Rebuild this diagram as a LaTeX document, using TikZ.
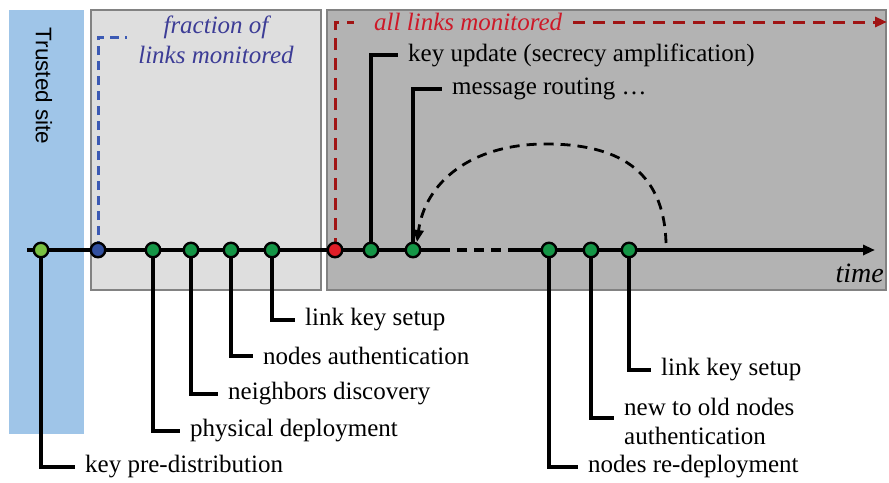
\documentclass[tikz,border=0pt]{standalone}
\usepackage{fontspec}
\setmainfont{Liberation Serif}
\newfontfamily\arialf{Liberation Sans}
\usetikzlibrary{arrows.meta}
\definecolor{trustblue}{RGB}{159,197,232}
\definecolor{ltgrey}{RGB}{222,222,222}
\definecolor{dkgrey}{RGB}{179,179,179}
\definecolor{edgegrey}{RGB}{130,130,130}
\definecolor{ltgreen}{RGB}{122,193,66}
\definecolor{dotgreen}{RGB}{20,150,70}
\definecolor{dotblue}{RGB}{50,80,160}
\definecolor{dotred}{RGB}{225,30,40}
\definecolor{dashblue}{RGB}{60,90,180}
\definecolor{textblue}{RGB}{60,60,150}
\definecolor{dashred}{RGB}{160,20,20}
\definecolor{textred}{RGB}{205,25,40}
\begin{document}
\begin{tikzpicture}[x=1pt,y=-1pt,
  dot/.style={circle, draw=black, line width=2.4pt, minimum size=14.5pt, inner sep=0pt},
  lbl/.style={anchor=west, inner sep=0pt, font=\fontsize{25}{29}\selectfont},
  leader/.style={line width=3.3pt},
  tl/.style={line width=3.1pt},
  tip/.style={-{Triangle[length=12pt,width=10pt]}}
]
\useasboundingbox (0,0) rectangle (889,482);
% regions
\fill[trustblue] (9,10) rectangle (84,434);
\draw[fill=ltgrey, draw=edgegrey, line width=1.4pt] (91,10) rectangle (321,290);
\draw[fill=dkgrey, draw=edgegrey, line width=1.4pt] (327,10) rectangle (886,290);
\node[rotate=-90, font=\arialf\fontsize{22.5}{26}\selectfont, inner sep=0pt] (trust) at (44,86) {Trusted site};

% positions on the time line
\coordinate (p1) at (41,250);
\coordinate (p2) at (98,250);
\coordinate (p3) at (153,250);
\coordinate (p4) at (191,250);
\coordinate (p5) at (231,250);
\coordinate (p6) at (272,250);
\coordinate (p7) at (335,250);
\coordinate (p8) at (371,250);
\coordinate (p9) at (413,250);
\coordinate (p10) at (549,250);
\coordinate (p11) at (591,250);
\coordinate (p12) at (629,250);
\coordinate (tstart) at (27,250);
\coordinate (tsolid) at (450,250);
\coordinate (tdash) at (510,250);
\coordinate (tend) at (875,250);

% monitoring markers
\coordinate (bcorner) at (98,37);
\coordinate (bend) at (127,37);
\draw[dashblue, line width=3pt, dash pattern=on 9pt off 6pt] (p2) -- (bcorner) -- (bend);
\node[font=\itshape\fontsize{25}{30}\selectfont, text=textblue, align=center, inner sep=0pt] (frac) at (216,40) {fraction of\\links monitored};

\coordinate (rcorner) at (335,22);
\coordinate (rend) at (354,22);
\coordinate (rstart2) at (573,22);
\coordinate (rarrow) at (887,22);
\draw[dashred, line width=3pt, dash pattern=on 12pt off 8pt] (p7) -- (rcorner) -- (rend);
\draw[dashred, line width=3pt, dash pattern=on 12pt off 8pt, tip] (rstart2) -- (rarrow);
\node[lbl, text=textred, font=\itshape\fontsize{25}{29}\selectfont] (all) at (374,22) {all links monitored};

% time line
\draw[tl] (tstart) -- (tsolid);
\draw[tl, dash pattern=on 10pt off 7pt, dash phase=10pt] (tsolid) -- (tdash);
\draw[tl, tip] (tdash) -- (tend);
\node[anchor=east, inner sep=0pt, font=\itshape\fontsize{28}{32}\selectfont] (time) at (884,273) {time};

% redeployment arc
\coordinate (arcs) at (666,243);
\coordinate (arce) at (417,242);
\draw[line width=2.8pt, dash pattern=on 10pt off 7pt, tip] (arcs) .. controls (664,168) and (615,144) .. (546,144) .. controls (470,144) and (425,183) .. (arce);

% labels
\node[lbl] (l1) at (85,467) {key pre-distribution};
\node[lbl] (l2) at (190,431) {physical deployment};
\node[lbl] (l3) at (228,394) {neighbors discovery};
\node[lbl] (l4) at (263,356) {nodes authentication};
\node[lbl] (l5) at (305,320) {link key setup};
\node[lbl] (l8) at (408,55) {key update (secrecy amplification)};
\node[lbl] (l9) at (452,89) {message routing \dots};
\node[lbl] (l10) at (588,467) {nodes re-deployment};
\node[lbl, align=left] (l11) at (624,421) {new to old nodes\\authentication};
\node[lbl] (l12) at (661,370) {link key setup};

\draw[leader] (p1) |- ([xshift=-10pt]l1.west);
\draw[leader] (p3) |- ([xshift=-10pt]l2.west);
\draw[leader] (p4) |- ([xshift=-10pt]l3.west);
\draw[leader] (p5) |- ([xshift=-10pt]l4.west);
\draw[leader] (p6) |- ([xshift=-10pt]l5.west);
\draw[leader] (p8) |- ([xshift=-10pt]l8.west);
\draw[leader] (p9) |- ([xshift=-10pt]l9.west);
\draw[leader] (p10) |- ([xshift=-10pt]l10.west);
\draw[leader] (p11) |- ([xshift=-10pt,yshift=3pt]l11.west);
\draw[leader] (p12) |- ([xshift=-10pt]l12.west);

% event dots
\node[dot, fill=ltgreen] (n1) at (p1) {};
\node[dot, fill=dotblue] (n2) at (p2) {};
\node[dot, fill=dotgreen] (n3) at (p3) {};
\node[dot, fill=dotgreen] (n4) at (p4) {};
\node[dot, fill=dotgreen] (n5) at (p5) {};
\node[dot, fill=dotgreen] (n6) at (p6) {};
\node[dot, fill=dotred] (n7) at (p7) {};
\node[dot, fill=dotgreen] (n8) at (p8) {};
\node[dot, fill=dotgreen] (n9) at (p9) {};
\node[dot, fill=dotgreen] (n10) at (p10) {};
\node[dot, fill=dotgreen] (n11) at (p11) {};
\node[dot, fill=dotgreen] (n12) at (p12) {};
\end{tikzpicture}
\end{document}
